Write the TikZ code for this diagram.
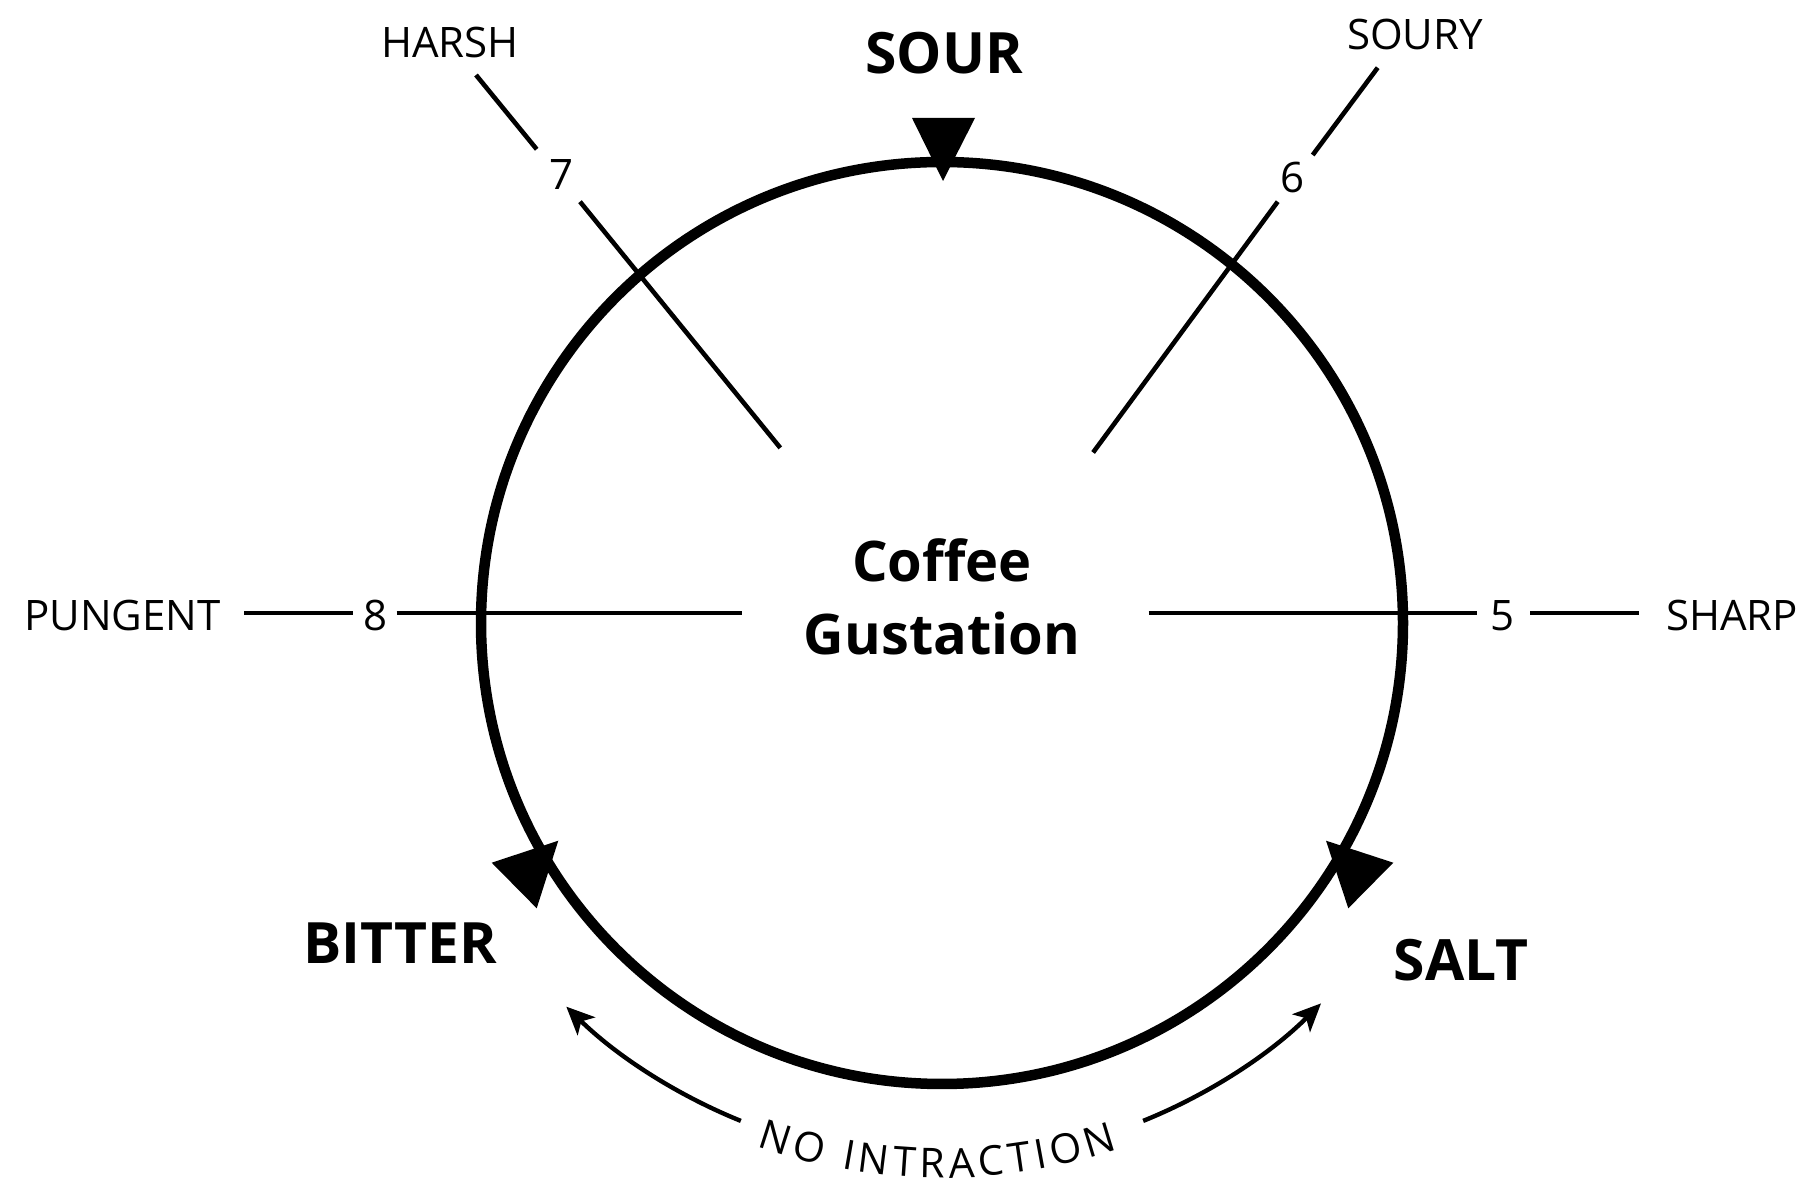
\documentclass[tikz,border=0pt]{standalone}
\usepackage{fontspec}
\setmainfont{Open Sans}
\usetikzlibrary{arrows.meta,decorations.text}
\begin{document}
\begin{tikzpicture}[x=1pt,y=1pt,
  thinline/.style={line width=4.6pt},
  rim/.style={line width=10.5pt},
  scalelabel/.style={inner sep=0pt, font=\fontsize{42}{50}\selectfont},
  taste/.style={inner sep=0pt, font=\bfseries\fontsize{57}{66}\selectfont},
  centretitle/.style={inner sep=0pt, anchor=base, font=\bfseries\fontsize{56}{64}\selectfont},
  sweep/.style={line width=4.4pt, -{Stealth[length=28pt,width=25pt,inset=7pt]}}]
\useasboundingbox (0,0) rectangle (1810,1188);

% main wheel
\coordinate (C) at (942,565);
\draw[rim] (C) circle[radius=461];

% taste pointers on the wheel
\fill (912,1070) -- (975,1070) -- (943,1007) -- cycle;
\fill (491.7,325.3) -- (558.3,347.3) -- (536.7,279.7) -- cycle;
\fill (1393.3,325.3) -- (1326,347.3) -- (1348.3,279.7) -- cycle;

% basic tastes
\node[taste] (sour) at (944,1135) {SOUR};
\node[taste] (bitter) at (400,245) {BITTER};
\node[taste] (salt) at (1461,228) {SALT};

% centre title
\node[centretitle] (coffee) at (942,606) {Coffee};
\node[centretitle] (gust) at (942,533) {Gustation};

% numbered spokes and their labels
\node[scalelabel] (harsh) at (450,1145.5) {HARSH};
\node[scalelabel] (n7) at (562,1013) {7};
\node[scalelabel] (soury) at (1415,1154) {SOURY};
\node[scalelabel] (n6) at (1292,1010) {6};
\node[scalelabel] (pungent) at (122.5,572) {PUNGENT};
\node[scalelabel] (n8) at (376,572) {8};
\node[scalelabel] (n5) at (1502,572) {5};
\node[scalelabel] (sharp) at (1732,572.5) {SHARP};

\coordinate (h1) at (476,1113);
\coordinate (h2) at (536.7,1038.7);
\coordinate (h3) at (580,986.3);
\coordinate (h4) at (780.3,740.1);
\coordinate (s1) at (1377.7,1120.3);
\coordinate (s2) at (1312.7,1033);
\coordinate (s3) at (1277.7,986.3);
\coordinate (s4) at (1093.1,735.5);
\coordinate (p1) at (244,575);
\coordinate (p2) at (352.7,575);
\coordinate (p3) at (396.7,575);
\coordinate (p4) at (742,575);
\coordinate (r1) at (1148.5,575);
\coordinate (r2) at (1476.7,575);
\coordinate (r3) at (1530,575);
\coordinate (r4) at (1639.3,575);

\draw[thinline] (h1) -- (h2) (h3) -- (h4);
\draw[thinline] (s1) -- (s2) (s3) -- (s4);
\draw[thinline] (p1) -- (p2) (p3) -- (p4);
\draw[thinline] (r1) -- (r2) (r3) -- (r4);

% bottom sweep arrows and curved caption
\draw[sweep] (C) ++(248:537) arc[start angle=248, end angle=225.6, radius=537];
\draw[sweep] (C) ++(292:537) arc[start angle=292, end angle=314.9, radius=537];
\path[decorate, decoration={text along path,
    text={|\fontsize{41}{44}\selectfont|NO INTRACTION},
    text align=fit to path}]
  (C) ++(250.5:555) arc[start angle=250.5, end angle=288.5, radius=555];
\end{tikzpicture}
\end{document}
